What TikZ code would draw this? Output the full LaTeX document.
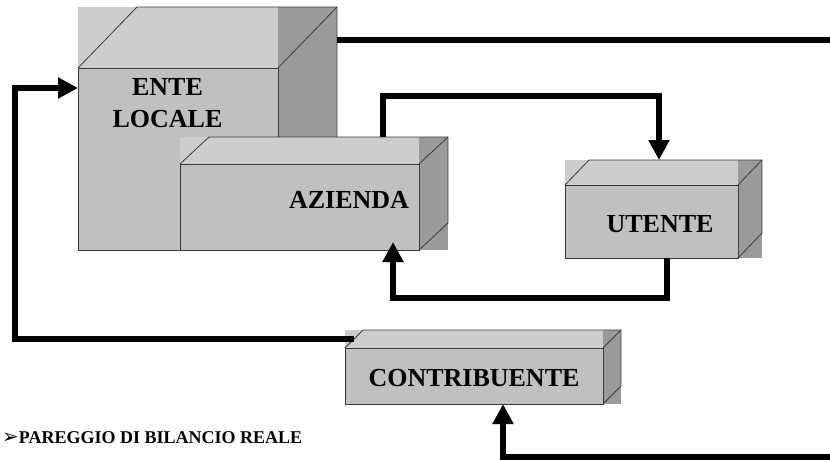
\documentclass[tikz,border=0pt]{standalone}
\usepackage{fontspec}
\setmainfont{Liberation Serif}
\newfontfamily\dejavu{DejaVu Sans}
\usetikzlibrary{arrows.meta,calc}
\definecolor{topc}{HTML}{CDCDCD}
\definecolor{frontc}{HTML}{C0C0C0}
\definecolor{sidec}{HTML}{9A9A9A}
\definecolor{edgec}{HTML}{3A3A3A}
\tikzset{
  frontface/.style={draw=edgec, fill=frontc, line width=0.8pt, inner sep=0pt, outer sep=0pt, anchor=north west},
  cubeedge/.style={draw=edgec, line width=0.8pt, line join=round},
  conn/.style={line width=5.5pt, line join=miter, line cap=butt, draw=black},
  tipped/.style={-{Triangle[width=20pt,length=20pt]}},
  boxlabel/.style={font=\bfseries\fontsize{26}{32}\selectfont, inner sep=0pt, text=black},
}
% name, x0, ytop-of-front, x1, ybottom, dx, dy
\newcommand\mycube[7]{%
  \fill[topc] (#2,#3-#7) rectangle (#4,#3);
  \fill[sidec] (#4,#3-#7) rectangle (#4+#6,#5);
  \node[frontface, minimum width={(#4-#2)*1pt}, minimum height={(#5-#3)*1pt}] (#1) at (#2,#3) {};
  \draw[cubeedge] (#2,#3) -- (#2+#6,#3-#7) -- (#4+#6,#3-#7) -- (#4+#6,#5-#7) -- (#4,#5);
  \draw[cubeedge] (#4,#3) -- (#4+#6,#3-#7);
}
\begin{document}
\begin{tikzpicture}[x=1pt,y=-1pt]
\useasboundingbox (0,0) rectangle (830,460);
\fill[white] (0,0) rectangle (830,460);
% cubes
\mycube{ente}{78}{68}{278}{250}{59}{61}
\mycube{azienda}{180}{164}{419}{250}{29}{27}
\mycube{utente}{565}{185}{738}{258}{24}{25}
\mycube{contrib}{345}{348}{603}{404}{18}{18}
% labels
\node[boxlabel, align=center, anchor=north] (enteText) at (167.5,78) {ENTE\\LOCALE};
\node[boxlabel, anchor=base] (aziendaText) at (349,208) {AZIENDA};
\node[boxlabel, anchor=base] (utenteText) at (660,232) {UTENTE};
\node[boxlabel, anchor=base] (contribText) at (474,386) {CONTRIBUENTE};
\node[anchor=base west, inner sep=0pt, font=\bfseries\fontsize{18}{20}\selectfont] (pareggio) at (2,443) {{\dejavu\mdseries\fontsize{20}{20}\selectfont ➢}PAREGGIO DI BILANCIO REALE};
% connector end points
\coordinate (enteOut) at ($(ente.north east)+(59,-28)$);
\coordinate (rightTop) at (830,40);
\coordinate (enteIn) at ($(ente.north west)+(0,20)$);
\coordinate (contribOut) at ($(contrib.north west)+(9,-9)$);
\coordinate (aziendaOut) at ($(azienda.north west)+(203,-27)$);
\coordinate (utenteIn) at ($(utente.north west)+(94,-25)$);
\coordinate (utenteOut) at ($(utente.south west)+(102,0)$);
\coordinate (aziendaIn) at ($(azienda.south west)+(213,-8)$);
\coordinate (rightBottom) at (830,457);
\coordinate (contribIn) at ($(contrib.south west)+(158,0)$);
% connectors
\draw[conn] (enteOut) -- (rightTop);
\draw[conn, tipped] (contribOut) -- ++(-339,0) |- (enteIn);
\draw[conn, tipped] (aziendaOut) -- ++(0,-41) -| (utenteIn);
\draw[conn, tipped] (utenteOut) -- ++(0,40) -| (aziendaIn);
\draw[conn, tipped] (rightBottom) -| (contribIn);
\end{tikzpicture}
\end{document}
